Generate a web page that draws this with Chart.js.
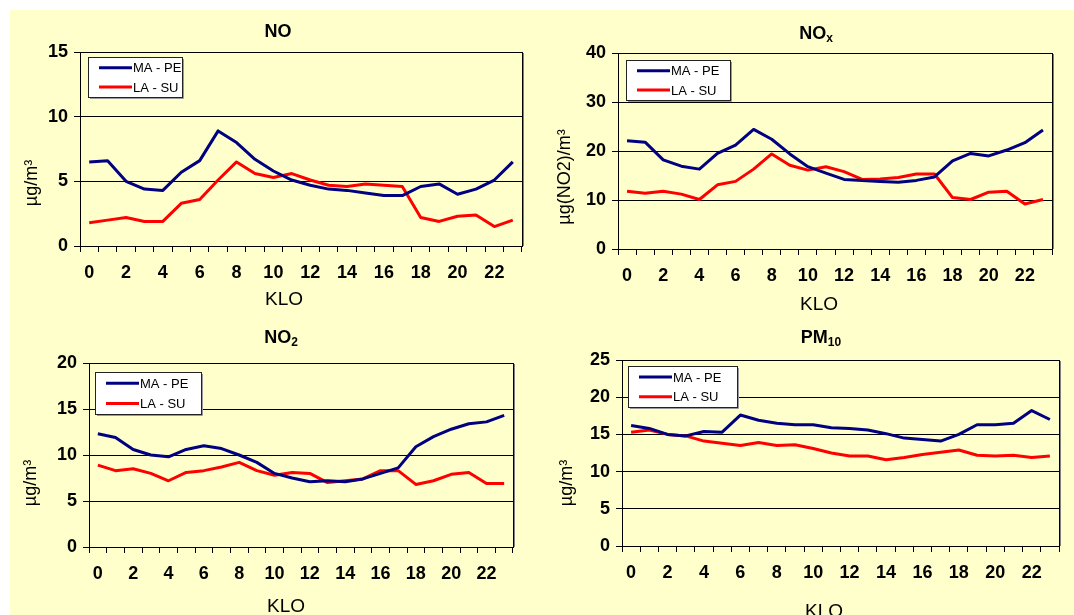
<!DOCTYPE html>
<html>
<head>
<meta charset="utf-8">
<script src="https://cdn.jsdelivr.net/npm/chart.js@4.4.1/dist/chart.umd.min.js"></script>
<style>
  html, body { margin: 0; padding: 0; background: #ffffff; }
  #sheet { position: absolute; left: 10px; top: 10px; width: 1064px; height: 605px; background: #ffffcc; }
  canvas { position: absolute; }
</style>
</head>
<body>
<div id="sheet"></div>
<canvas id="chart-no"></canvas>
<canvas id="chart-nox"></canvas>
<canvas id="chart-no2"></canvas>
<canvas id="chart-pm10"></canvas>
<script>
// Hours of the day (KLO)
const hours = ['0', '1', '2', '3', '4', '5', '6', '7', '8', '9', '10', '11',
  '12', '13', '14', '15', '16', '17', '18', '19', '20', '21', '22', '23'];

const seriesNames = ['MA - PE', 'LA - SU'];

// NO, µg/m3
const noMaPe = [6.5, 6.6, 5.0, 4.4, 4.3, 5.7, 6.6, 8.9, 8.0, 6.7, 5.8, 5.1,
  4.7, 4.4, 4.3, 4.1, 3.9, 3.9, 4.6, 4.8, 4.0, 4.4, 5.1, 6.5];
const noLaSu = [1.8, 2.0, 2.2, 1.9, 1.9, 3.3, 3.6, 5.1, 6.5, 5.6, 5.3, 5.6,
  5.1, 4.7, 4.6, 4.8, 4.7, 4.6, 2.2, 1.9, 2.3, 2.4, 1.5, 2.0];

// NOx, µg(NO2)/m3
const noxMaPe = [22.1, 21.8, 18.2, 16.9, 16.3, 19.5, 21.2, 24.4, 22.4, 19.4, 16.8, 15.5,
  14.2, 14.0, 13.8, 13.6, 14.0, 14.7, 18.0, 19.5, 19.0, 20.2, 21.7, 24.3];
const noxLaSu = [11.8, 11.4, 11.8, 11.2, 10.1, 13.1, 13.8, 16.3, 19.4, 17.1, 16.1, 16.8,
  15.8, 14.2, 14.3, 14.6, 15.3, 15.3, 10.5, 10.1, 11.6, 11.8, 9.2, 10.1];

// NO2, µg/m3
const no2MaPe = [12.3, 11.9, 10.6, 10.0, 9.8, 10.6, 11.0, 10.7, 10.0, 9.2, 8.0, 7.5,
  7.1, 7.2, 7.1, 7.4, 8.0, 8.6, 10.9, 12.0, 12.8, 13.4, 13.6, 14.3];
const no2LaSu = [8.9, 8.3, 8.5, 8.0, 7.2, 8.1, 8.3, 8.7, 9.2, 8.3, 7.8, 8.1,
  8.0, 7.0, 7.2, 7.4, 8.3, 8.3, 6.8, 7.2, 7.9, 8.1, 6.9, 6.9];

// PM10, µg/m3
const pm10MaPe = [16.2, 15.8, 15.0, 14.8, 15.4, 15.3, 17.6, 16.9, 16.5, 16.3, 16.3, 15.9,
  15.8, 15.6, 15.1, 14.5, 14.3, 14.1, 15.0, 16.3, 16.3, 16.5, 18.2, 17.0];
const pm10LaSu = [15.3, 15.6, 15.0, 14.8, 14.1, 13.8, 13.5, 13.9, 13.5, 13.6, 13.1, 12.5,
  12.1, 12.1, 11.6, 11.9, 12.3, 12.6, 12.9, 12.2, 12.1, 12.2, 11.9, 12.1];

const lineColors = ['#000080', '#ff0000'];
const fontFamily = '"Liberation Sans", Arial, sans-serif';

// Titles, axis texts and where each panel sits on the page
const panels = [
  {
    id: 'chart-no', title: 'NO', sub: '', yTitle: 'µg/m³', xTitle: 'KLO',
    max: 15, step: 5, series: [noMaPe, noLaSu],
    canvas: { x: 10, y: 10, w: 532, h: 305 },
    plot: { l: 80, t: 52, r: 522, b: 246 },
    legend: { x: 88, y: 57, w: 94, h: 40 },
    titleAt: [278, 32], yTitleAt: [32, 183], xTitleAt: [284, 300],
  },
  {
    id: 'chart-nox', title: 'NO', sub: 'x', yTitle: 'µg(NO2)/m³', xTitle: 'KLO',
    max: 40, step: 10, series: [noxMaPe, noxLaSu],
    canvas: { x: 542, y: 10, w: 532, h: 305 },
    plot: { l: 618, t: 53, r: 1052, b: 249 },
    legend: { x: 626, y: 60, w: 104, h: 40 },
    titleAt: [816, 34], yTitleAt: [565, 177], xTitleAt: [819, 305],
  },
  {
    id: 'chart-no2', title: 'NO', sub: '2', yTitle: 'µg/m³', xTitle: 'KLO',
    max: 20, step: 5, series: [no2MaPe, no2LaSu],
    canvas: { x: 10, y: 315, w: 532, h: 300 },
    plot: { l: 89, t: 363, r: 513, b: 547 },
    legend: { x: 95, y: 372, w: 106, h: 42 },
    titleAt: [281, 338], yTitleAt: [31, 483], xTitleAt: [286, 607],
  },
  {
    id: 'chart-pm10', title: 'PM', sub: '10', yTitle: 'µg/m³', xTitle: 'KLO',
    max: 25, step: 5, series: [pm10MaPe, pm10LaSu],
    canvas: { x: 542, y: 315, w: 532, h: 300 },
    plot: { l: 622, t: 360, r: 1059, b: 546 },
    legend: { x: 628, y: 366, w: 109, h: 41 },
    titleAt: [821, 338], yTitleAt: [567, 483], xTitleAt: [824, 612],
  },
];

// Draws the Excel-like frame, boxed legend and the titles
const decor = {
  id: 'decor',
  afterDatasetsDraw(chart, args, opts) {
    const ctx = chart.ctx;
    const ox = opts.canvas.x;
    const oy = opts.canvas.y;
    const a = chart.chartArea;
    ctx.save();
    // plot frame
    ctx.strokeStyle = '#000';
    ctx.lineWidth = 1;
    ctx.strokeRect(Math.round(a.left) + 0.5, Math.round(a.top) + 0.5,
      Math.round(a.right - a.left), Math.round(a.bottom - a.top));
    ctx.strokeStyle = '#808080';
    ctx.beginPath();
    ctx.moveTo(Math.round(a.right) + 1.5, Math.round(a.top) + 1);
    ctx.lineTo(Math.round(a.right) + 1.5, Math.round(a.bottom));
    ctx.stroke();

    // legend box
    const lg = opts.legend;
    const lx = lg.x - ox;
    const ly = lg.y - oy;
    ctx.fillStyle = '#fff';
    ctx.fillRect(lx, ly, lg.w, lg.h);
    ctx.strokeStyle = '#222';
    ctx.strokeRect(lx + 0.5, ly + 0.5, lg.w, lg.h);
    ctx.strokeStyle = '#999';
    ctx.beginPath();
    ctx.moveTo(lx + 2, ly + lg.h + 1.5);
    ctx.lineTo(lx + lg.w + 1.5, ly + lg.h + 1.5);
    ctx.lineTo(lx + lg.w + 1.5, ly + 2);
    ctx.stroke();
    const rows = [0.27, 0.75];
    chart.data.datasets.forEach((ds, i) => {
      const ry = ly + lg.h * rows[i];
      ctx.strokeStyle = ds.borderColor;
      ctx.lineWidth = 3;
      ctx.beginPath();
      ctx.moveTo(lx + 11, ry);
      ctx.lineTo(lx + 44, ry);
      ctx.stroke();
      ctx.fillStyle = '#000';
      ctx.font = '13px ' + fontFamily;
      ctx.textAlign = 'left';
      ctx.textBaseline = 'middle';
      ctx.fillText(ds.label, lx + 45, ry + 1);
    });

    // chart title with subscript
    ctx.fillStyle = '#000';
    ctx.textBaseline = 'middle';
    ctx.textAlign = 'left';
    const mainFont = 'bold 18px ' + fontFamily;
    const subFont = 'bold 12px ' + fontFamily;
    ctx.font = mainFont;
    const mw = ctx.measureText(opts.title).width;
    ctx.font = subFont;
    const sw = opts.sub ? ctx.measureText(opts.sub).width : 0;
    const tx = opts.titleAt[0] - ox - (mw + sw) / 2;
    const ty = opts.titleAt[1] - oy;
    ctx.font = mainFont;
    ctx.fillText(opts.title, tx, ty);
    if (opts.sub) {
      ctx.font = subFont;
      ctx.fillText(opts.sub, tx + mw, ty + 5);
    }

    // axis titles
    ctx.font = '19px ' + fontFamily;
    ctx.textAlign = 'center';
    ctx.fillText(opts.xTitle, opts.xTitleAt[0] - ox, opts.xTitleAt[1] - oy);
    ctx.font = '18px ' + fontFamily;
    ctx.translate(opts.yTitleAt[0] - ox, opts.yTitleAt[1] - oy);
    ctx.rotate(-Math.PI / 2);
    ctx.fillText(opts.yTitle, 0, 0);
    ctx.restore();
  },
};

panels.forEach((p) => {
  const el = document.getElementById(p.id);
  el.width = p.canvas.w;
  el.height = p.canvas.h;
  el.style.left = p.canvas.x + 'px';
  el.style.top = p.canvas.y + 'px';

  const tickFont = { family: fontFamily, size: 18, weight: 'bold' };

  new Chart(el, {
    type: 'line',
    data: {
      labels: hours,
      datasets: p.series.map((values, i) => ({
        label: seriesNames[i],
        data: values,
        borderColor: lineColors[i],
        backgroundColor: lineColors[i],
        borderWidth: 3,
        pointRadius: 0,
        tension: 0,
        borderJoinStyle: 'round',
        fill: false,
      })),
    },
    options: {
      responsive: false,
      animation: false,
      layout: {
        padding: {
          top: p.plot.t - p.canvas.y,
          right: p.canvas.x + p.canvas.w - p.plot.r,
          left: 0,
          bottom: 0,
        },
      },
      plugins: {
        legend: { display: false },
        tooltip: { enabled: false },
        decor: {
          canvas: p.canvas,
          legend: p.legend,
          title: p.title,
          sub: p.sub,
          titleAt: p.titleAt,
          xTitle: p.xTitle,
          xTitleAt: p.xTitleAt,
          yTitle: p.yTitle,
          yTitleAt: p.yTitleAt,
        },
      },
      scales: {
        x: {
          offset: true,
          grid: {
            offset: true,
            drawOnChartArea: false,
            drawTicks: true,
            tickLength: 6,
            color: '#000',
          },
          border: { color: '#000', width: 1 },
          ticks: {
            autoSkip: false,
            maxRotation: 0,
            padding: 10,
            color: '#000',
            font: tickFont,
            callback: (v, i) => (i % 2 === 0 ? hours[i] : ''),
          },
          afterFit: (s) => { s.height = p.canvas.y + p.canvas.h - p.plot.b; },
        },
        y: {
          min: 0,
          max: p.max,
          grid: { color: '#000', tickLength: 6 },
          border: { color: '#000', width: 1 },
          ticks: {
            stepSize: p.step,
            padding: 6,
            color: '#000',
            font: tickFont,
          },
          afterFit: (s) => { s.width = p.plot.l - p.canvas.x; },
        },
      },
    },
    plugins: [decor],
  });
});
</script>
</body>
</html>
